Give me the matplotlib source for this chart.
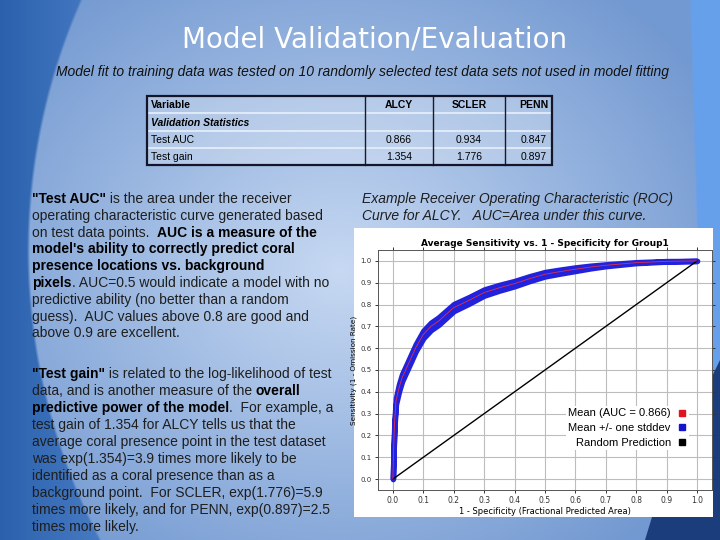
import numpy as np
import matplotlib.pyplot as plt
from matplotlib.patches import Rectangle, Polygon
from matplotlib.lines import Line2D

# validation table
col_names = ['Variable', 'ALCY', 'SCLER', 'PENN']
section_label = 'Validation Statistics'
row_names = ['Test AUC', 'Test gain']
alcy = ['0.866', '1.354']
scler = ['0.934', '1.776']
penn = ['0.847', '0.897']

# ROC curve for ALCY
fpr = [0.0, 0.002, 0.005, 0.01, 0.02, 0.03, 0.05, 0.075, 0.1, 0.125, 0.15, 0.2,
       0.25, 0.3, 0.35, 0.4, 0.45, 0.5, 0.55, 0.6, 0.65, 0.7, 0.8, 0.9, 1.0]
tpr = [0.0, 0.12, 0.25, 0.357, 0.418, 0.464, 0.525, 0.602, 0.663, 0.70, 0.724, 0.786,
       0.819, 0.855, 0.877, 0.896, 0.919, 0.939, 0.951, 0.962, 0.972, 0.98, 0.992, 0.998, 1.0]
tpr_sd = [0.0, 0.008, 0.012, 0.014, 0.016, 0.016, 0.016, 0.016, 0.017, 0.017, 0.017, 0.016,
          0.015, 0.014, 0.013, 0.012, 0.011, 0.01, 0.009, 0.008, 0.006, 0.004, 0.002, 0.001, 0.0]
auc = 0.866
legend_labels = ['Mean (AUC = %.3f)' % auc, 'Mean +/- one stddev', 'Random Prediction']

para1 = [
    [('"Test AUC"', True), (' is the area under the receiver', False)],
    [('operating characteristic curve generated based', False)],
    [('on test data points.  ', False), ('AUC is a measure of the', True)],
    [("model's ability to correctly predict coral", True)],
    [('presence locations vs. background', True)],
    [('pixels', True), ('. AUC=0.5 would indicate a model with no', False)],
    [('predictive ability (no better than a random', False)],
    [('guess).  AUC values above 0.8 are good and', False)],
    [('above 0.9 are excellent.', False)],
]
para2 = [
    [('"Test gain"', True), (' is related to the log-likelihood of test', False)],
    [('data, and is another measure of the ', False), ('overall', True)],
    [('predictive power of the model', True), ('.  For example, a', False)],
    [('test gain of 1.354 for ALCY tells us that the', False)],
    [('average coral presence point in the test dataset', False)],
    [('was exp(1.354)=3.9 times more likely to be', False)],
    [('identified as a coral presence than as a', False)],
    [('background point.  For SCLER, exp(1.776)=5.9', False)],
    [('times more likely, and for PENN, exp(0.897)=2.5', False)],
    [('times more likely.', False)],
]

fig = plt.figure(figsize=(7.2, 5.4), dpi=100)
bg = fig.add_axes([0, 0, 1, 1])
bg.set_xlim(0, 720)
bg.set_ylim(540, 0)
bg.axis('off')

# slide background
H, W = 540, 720
yy, xx = np.mgrid[0:H, 0:W].astype(float)
d = np.sqrt(((xx - 340) / 430) ** 2 + ((yy - 270) / 360) ** 2)
t = np.clip(d, 0, 1)[..., None]
light = np.array([0.78, 0.85, 0.95])
dark = np.array([0.45, 0.60, 0.82])
img = light * (1 - t) + dark * t
xb = 648 - np.sqrt(np.clip(620 ** 2 - (yy - 250) ** 2, 0, None))
left = np.clip((xb - xx) / 3 + 0.5, 0, 1)[..., None]
leftcol = np.array([0.17, 0.38, 0.68]) * (1 - xx[..., None] / 120) + np.array([0.30, 0.50, 0.78]) * (xx[..., None] / 120)
img = img * (1 - left) + leftcol * left
rb = 690 + 0.03 * yy
right = np.clip((xx - rb) / 2 + 0.5, 0, 1)[..., None]
img = img * (1 - right) + np.array([0.40, 0.63, 0.92]) * right
bg.imshow(np.clip(img, 0, 1), extent=(0, 720, 540, 0), aspect='auto', zorder=0)
bg.add_patch(Polygon([(720, 360), (708, 385), (708, 517), (652, 517), (645, 540), (720, 540)],
                     closed=True, fc='#1b3d7c', ec='none', zorder=1))

bg.text(375, 48, 'Model Validation/Evaluation', fontsize=20, color='white',
        ha='center', va='baseline', family='DejaVu Sans', zorder=3)
bg.text(363, 76, 'Model fit to training data was tested on 10 randomly selected test data sets not used in model fitting',
        fontsize=10, style='italic', family='Liberation Sans', color='#111111', ha='center', va='baseline', zorder=3)

# table
xe = [147, 365, 433, 505, 552]
ye = [96, 113, 131, 148, 165]
bg.add_patch(Rectangle((xe[0], ye[0]), xe[-1] - xe[0], ye[-1] - ye[0], fc='white', alpha=0.25,
                       ec='none', zorder=2))
for y in ye[1:-1]:
    bg.plot([xe[0], xe[-1]], [y, y], color='#e8f0fa', lw=1.2, zorder=3)
for x in xe[1:-1]:
    bg.plot([x, x], [ye[0], ye[-1]], color='#1a1a2a', lw=1.0, zorder=3)
bg.add_patch(Rectangle((xe[0], ye[0]), xe[-1] - xe[0], ye[-1] - ye[0], fc='none',
                       ec='#15152a', lw=1.6, zorder=4))
centers = [399, 469, 534]
tfs = 7.5
bg.text(151, 108, col_names[0], fontsize=tfs, fontweight='bold', family='Liberation Sans',
        va='baseline', zorder=5)
for c, name in zip(centers, col_names[1:]):
    bg.text(c, 108, name, fontsize=tfs, fontweight='bold', family='Liberation Sans',
            ha='center', va='baseline', zorder=5)
bg.text(151, 126, section_label, fontsize=tfs, fontweight='bold', style='italic',
        family='Liberation Sans', va='baseline', zorder=5)
for i, r in enumerate(row_names):
    yb = 143 + i * 17
    bg.text(151, yb, r, fontsize=tfs, family='Liberation Sans', va='baseline', zorder=5)
    for c, v in zip(centers, [alcy[i], scler[i], penn[i]]):
        bg.text(c, yb, v, fontsize=tfs, family='Liberation Sans', ha='center', va='baseline', zorder=5)

# paragraphs with bold runs
renderer = fig.canvas.get_renderer()
pfs = 10


def width_of(txt, bold):
    kw = dict(fontsize=pfs, fontweight='bold' if bold else 'normal', family='Liberation Sans')
    a = bg.text(0, 0, 'X' + txt + 'X', **kw)
    b = bg.text(0, 0, 'XX', **kw)
    w = a.get_window_extent(renderer).width - b.get_window_extent(renderer).width
    a.remove()
    b.remove()
    return w


def draw_para(lines, x0, y0, step):
    for k, parts in enumerate(lines):
        x = x0
        for txt, bold in parts:
            bg.text(x, y0 + k * step, txt, fontsize=pfs, fontweight='bold' if bold else 'normal',
                    family='Liberation Sans', color='black' if bold else '#1e1e1e',
                    va='baseline', ha='left', zorder=5)
            x += width_of(txt, bold)


draw_para(para1, 32, 203, 16.8)
draw_para(para2, 32, 378, 17.05)

bg.text(362, 203, 'Example Receiver Operating Characteristic (ROC)', fontsize=pfs, style='italic',
        family='Liberation Sans', color='#1e1e1e', va='baseline', zorder=5)
bg.text(362, 220.5, 'Curve for ALCY.   AUC=Area under this curve.', fontsize=pfs, style='italic',
        family='Liberation Sans', color='#1e1e1e', va='baseline', zorder=5)

# white box holding the ROC chart
bg.add_patch(Rectangle((354, 228), 713 - 354, 517 - 228, fc='white', ec='none', zorder=2))

ax = fig.add_axes([378 / 720, 50 / 540, 334 / 720, 240 / 540])
ax.set_facecolor('white')
ax.set_xlim(-0.049, 1.049)
ax.set_ylim(-0.05, 1.05)
ticks = np.round(np.arange(0, 1.01, 0.1), 1)
ax.set_xticks(ticks)
ax.set_yticks(ticks)
ax.set_xticklabels(['%.1f' % v for v in ticks], fontsize=5.5)
ax.set_yticklabels(['%.1f' % v for v in ticks], fontsize=5)
ax.tick_params(length=2.5, width=0.7, pad=2, colors='#333333', right=True, top=True)
ax.tick_params(labeltop=False, labelright=False)
ax.grid(True, color='#bdbdbd', lw=0.8)
ax.set_axisbelow(True)
for s in ax.spines.values():
    s.set_color('#555555')
    s.set_linewidth(0.7)

lo = np.array(tpr) - np.array(tpr_sd)
hi = np.array(tpr) + np.array(tpr_sd)
ax.fill_between(fpr, lo, hi, color='#2222dd', lw=4, edgecolor='#2222dd', zorder=3)
ax.plot(fpr, tpr, color='#e0304a', lw=0.6, zorder=4)
ax.plot([0, 1], [0, 1], color='black', lw=1.0, zorder=3)

ax.set_title('Average Sensitivity vs. 1 - Specificity for Group1', fontsize=6.5, fontweight='bold',
             pad=3, family='DejaVu Sans')
ax.set_xlabel('1 - Specificity (Fractional Predicted Area)', fontsize=6, labelpad=1)
ax.set_ylabel('Sensitivity (1 - Omission Rate)', fontsize=5.2)
ax.yaxis.set_label_coords(-0.062, 0.5)

handles = [Line2D([], [], ls='none', marker='s', ms=4.5, color=c) for c in ['#e0141e', '#1414d0', 'black']]
leg = ax.legend(handles, legend_labels, loc='center right', bbox_to_anchor=(0.93, 0.258),
                markerfirst=False, frameon=True, labelspacing=0.42,
                handlelength=0.8, handletextpad=0.6, borderpad=0.2, borderaxespad=0,
                prop={'family': 'Liberation Sans', 'size': 8})
leg.get_frame().set_facecolor('white')
leg.get_frame().set_edgecolor('none')
leg.get_frame().set_alpha(1)
for txt in leg.get_texts():
    txt.set_ha('right')

fig.savefig('out.png', dpi=100)
